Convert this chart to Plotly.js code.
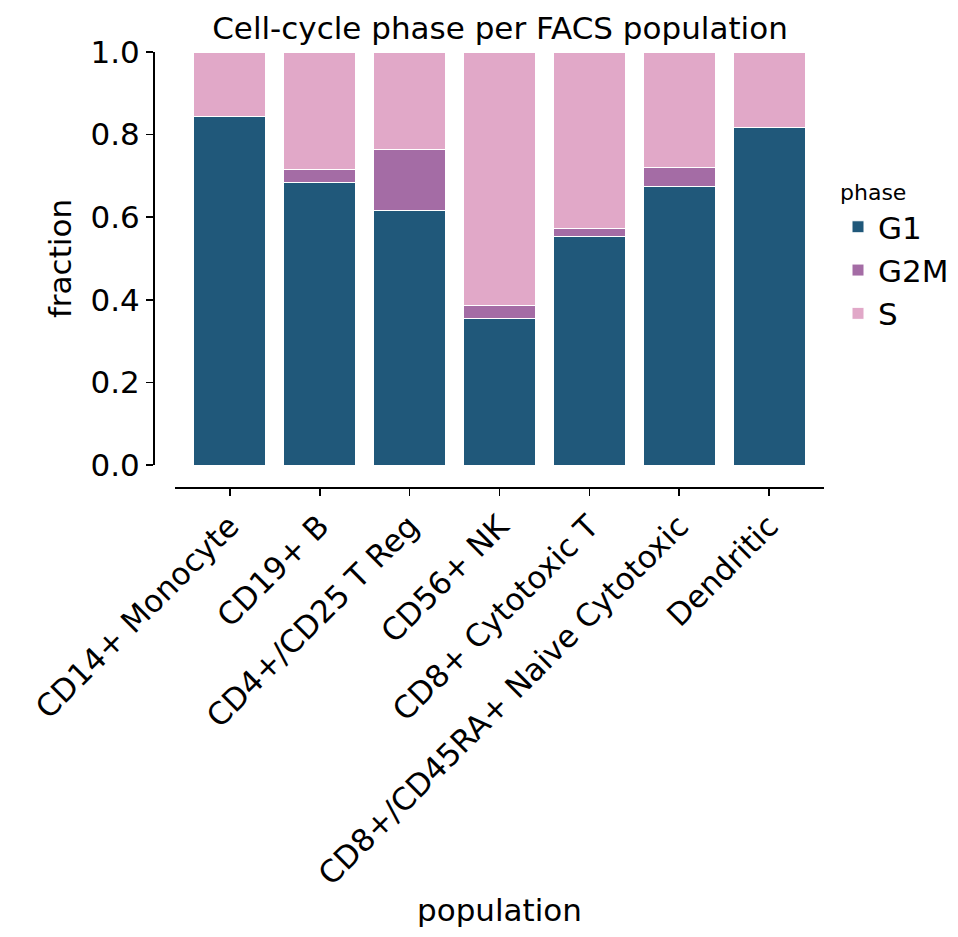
<!DOCTYPE html>
<html>
<head>
<meta charset="utf-8">
<script src="https://cdn.plot.ly/plotly-3.0.1.min.js"></script>
<style>
  html, body { margin: 0; padding: 0; background: #fff; }
  #chart { width: 958px; height: 937px; }
</style>
</head>
<body>
<div id="chart"></div>
<script>
// populations on the x axis
const populations = [
    'CD14+ Monocyte', 'CD19+ B', 'CD4+/CD25 T Reg', 'CD56+ NK',
    'CD8+ Cytotoxic T', 'CD8+/CD45RA+ Naive Cytotoxic', 'Dendritic'
];
// fraction of cells per phase
const g1 = [0.844, 0.684, 0.617, 0.354, 0.554, 0.674, 0.817];
const g2m = [0.000, 0.032, 0.147, 0.032, 0.018, 0.046, 0.000];
const s = [0.156, 0.284, 0.236, 0.614, 0.428, 0.280, 0.183];
const yTicks = [0, 0.2, 0.4, 0.6, 0.8, 1.0];

const phaseColors = {G1: '#20587a', G2M: '#a46ca5', S: '#e1a8c8'};
const font = 'DejaVu Sans, Liberation Sans, sans-serif';
const fs = 31;

function barTrace(name, values) {
    return {
        type: 'bar',
        name: name,
        legendgroup: name,
        x: populations,
        y: values,
        width: 0.8,
        marker: {color: phaseColors[name], line: {color: '#ffffff', width: 1}},
        hoverinfo: 'x+y+name'
    };
}

const data = [barTrace('G1', g1), barTrace('G2M', g2m), barTrace('S', s)];

const layout = {
    width: 958,
    height: 937,
    barmode: 'stack',
    paper_bgcolor: '#ffffff',
    plot_bgcolor: '#ffffff',
    font: {family: font, color: '#000', size: fs},
    margin: {l: 153, r: 134, t: 52, b: 450},
    // centred over the bars, not over the offset y axis
    title: {
        text: 'Cell-cycle phase per FACS population',
        font: {size: fs, family: font},
        x: 500 / 958, xref: 'container', xanchor: 'center',
        y: 1 - 28 / 937, yref: 'container', yanchor: 'middle'
    },
    xaxis: {
        domain: [22 / 671, 1],
        range: [-0.61, 6.61],
        anchor: 'free',
        position: 0,
        automargin: false,
        showline: true, linecolor: '#000', linewidth: 1.6,
        ticks: 'outside', ticklen: 7, tickwidth: 1.6, tickcolor: '#000',
        tickangle: -45,
        tickfont: {size: fs},
        showgrid: false, zeroline: false,
        title: {text: 'population', font: {size: fs}, standoff: 2}
    },
    yaxis: {
        domain: [22 / 435, 1],
        range: [0, 1],
        anchor: 'free',
        position: 0,
        automargin: false,
        tickvals: yTicks,
        ticktext: yTicks.map(v => v.toFixed(1)),
        showline: true, linecolor: '#000', linewidth: 1.6,
        ticks: 'outside', ticklen: 7, tickwidth: 1.6, tickcolor: '#000',
        tickfont: {size: fs},
        showgrid: false, zeroline: false,
        title: {text: 'fraction', font: {size: fs}, standoff: 8}
    },
    legend: {
        xref: 'container', yref: 'container',
        x: 838 / 958, xanchor: 'left',
        y: 1 - 256 / 937, yanchor: 'middle',
        title: {text: 'phase', font: {size: 22}},
        font: {size: fs},
        traceorder: 'normal',
        itemwidth: 30,
        tracegroupgap: 4
    },
    showlegend: true
};

Plotly.newPlot('chart', data, layout, {staticPlot: true, displayModeBar: false});
</script>
</body>
</html>
